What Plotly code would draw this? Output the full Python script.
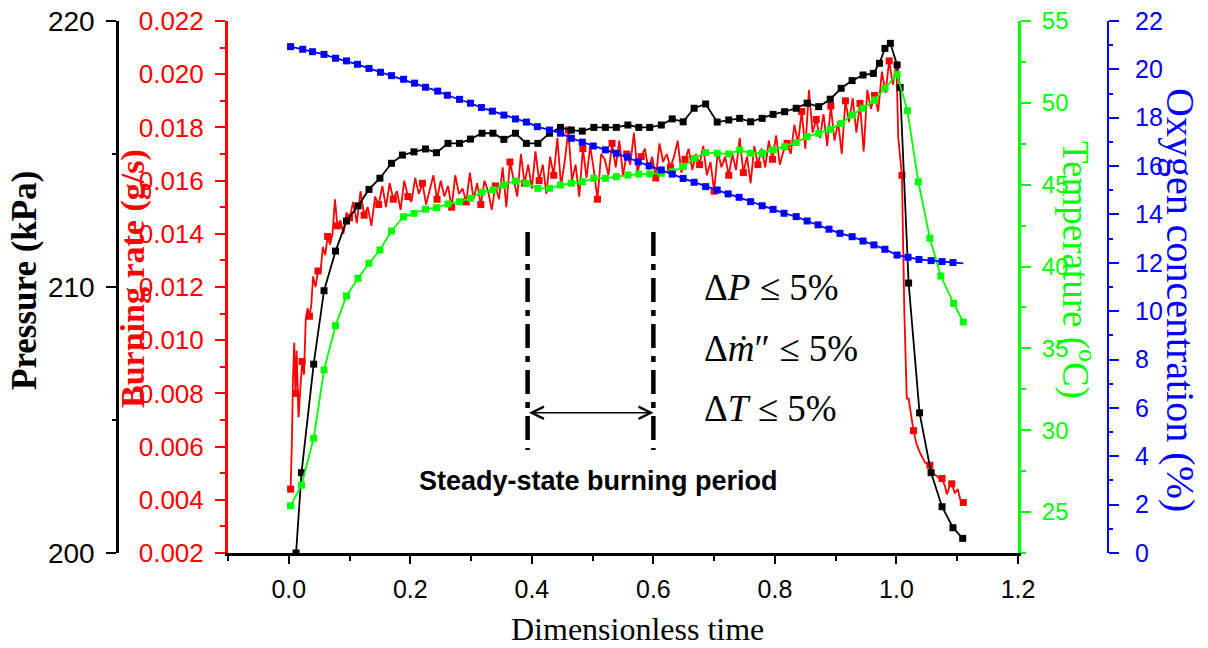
import plotly.graph_objects as go

# Page geometry (pixels) of the original figure
W, H = 1208, 648

RED = "#ff0000"
GREEN = "#00ff00"
BLUE = "#0000ff"
SANS = "Liberation Sans, Arial, sans-serif"
SERIF = "Liberation Serif, Times New Roman, serif"

# Burning rate (mg/s, converted to g/s below) - noisy signal
rate_t = [0.003, 0.005, 0.007, 0.009, 0.011, 0.013, 0.016, 0.019, 0.022, 0.025,
          0.028, 0.031, 0.034, 0.037, 0.040, 0.044, 0.048, 0.052, 0.056, 0.060,
          0.064, 0.068, 0.072, 0.076, 0.080, 0.085, 0.090, 0.095, 0.100,
          0.106, 0.112, 0.118, 0.124, 0.130, 0.136, 0.142, 0.148,
          0.154, 0.160, 0.166, 0.172, 0.178, 0.184, 0.190, 0.196,
          0.202, 0.208, 0.214, 0.220, 0.226, 0.232, 0.238, 0.244,
          0.250, 0.256, 0.262, 0.268, 0.274, 0.280, 0.286, 0.292,
          0.298, 0.304, 0.310, 0.316, 0.322, 0.328, 0.334, 0.340,
          0.346, 0.352, 0.358, 0.364, 0.370, 0.376, 0.382, 0.388,
          0.394, 0.400, 0.406, 0.412, 0.418, 0.424, 0.430, 0.436,
          0.442, 0.448, 0.454, 0.460, 0.466, 0.472, 0.478, 0.484,
          0.490, 0.496, 0.502, 0.508, 0.514, 0.520, 0.526, 0.532,
          0.538, 0.544, 0.550, 0.556, 0.562, 0.568, 0.574, 0.580,
          0.586, 0.592, 0.598, 0.604, 0.610, 0.616, 0.622, 0.628,
          0.634, 0.640, 0.646, 0.652, 0.658, 0.664, 0.670, 0.676,
          0.682, 0.688, 0.694, 0.700, 0.706, 0.712, 0.718, 0.724,
          0.730, 0.736, 0.742, 0.748, 0.754, 0.760, 0.766, 0.772,
          0.778, 0.784, 0.790, 0.796, 0.802, 0.808, 0.814, 0.820,
          0.826, 0.832, 0.838, 0.844, 0.850, 0.856, 0.862, 0.868,
          0.874, 0.880, 0.886, 0.892, 0.898, 0.904, 0.910, 0.916,
          0.922, 0.928, 0.934, 0.940, 0.946, 0.952, 0.958, 0.964,
          0.970, 0.976, 0.982, 0.988, 0.994, 1.000,
          1.003, 1.009, 1.013, 1.017, 1.020, 1.028, 1.033, 1.039, 1.047, 1.055,
          1.060, 1.066, 1.071, 1.075, 1.080, 1.083, 1.088, 1.091, 1.096, 1.101,
          1.105, 1.110]
rate_mg = [4.4, 6.0, 8.6, 9.9, 8.0, 9.6, 7.1, 8.4, 9.2, 8.7,
           10.8, 11.2, 10.9, 11.3, 12.4, 12.0, 12.6, 12.5, 13.5, 13.2,
           13.9, 13.6, 14.0, 15.3, 14.3, 14.5, 14.0, 14.8, 14.6,
           15.2, 14.4, 15.6, 14.7, 15.0, 14.3, 15.4, 15.1,
           15.8, 15.0, 15.9, 15.3, 15.6, 14.9, 16.0, 15.4,
           15.2, 16.1, 15.5, 15.9, 15.1, 15.7, 16.2, 15.3,
           16.0, 15.4, 15.8, 15.0, 16.2, 15.5, 15.7, 15.2,
           16.3, 15.3, 15.9, 15.1, 16.0, 15.6, 14.9, 15.8,
           15.3, 16.5, 15.0, 16.7, 16.0, 15.4, 17.0, 15.9,
           16.6, 15.7, 17.1, 16.0, 16.6, 15.5, 16.9, 16.2,
           17.6, 15.8, 16.7, 17.9, 16.0, 16.6, 15.4, 17.2,
           16.1, 17.3, 16.4, 15.3, 17.0, 16.8, 16.2, 17.4,
           16.5, 17.5, 16.2, 17.0, 16.6, 17.8, 16.3, 16.9,
           17.2, 16.4, 16.9, 16.1, 17.4, 16.7, 17.0, 16.5,
           16.9, 17.5, 16.3, 16.8, 17.2, 16.4, 17.0, 16.6,
           17.3, 16.2, 16.7, 15.6, 17.1, 16.5, 16.9, 16.2,
           17.0, 16.4, 17.6, 16.3, 16.9, 15.9, 17.3, 16.6,
           17.2, 16.5, 17.5, 16.8, 17.7, 16.6, 17.1, 17.4,
           17.0, 18.1, 17.4, 18.6, 17.2, 19.4, 17.8, 18.3,
           17.6, 18.5, 17.3, 18.8, 17.5, 18.2, 17.0, 19.0,
           18.2, 19.1, 17.8, 18.9, 17.1, 19.4, 18.7, 19.2,
           18.6, 20.1, 19.3, 20.5, 19.6, 20.4,
           17.6, 16.2, 11.0, 7.8, 7.8, 6.6, 6.1, 5.75, 5.4, 5.3,
           5.0, 4.9, 4.8, 4.8, 4.5, 4.2, 4.55, 4.6, 4.25, 4.4,
           4.0, 3.9]
rate_gs = [v / 1000 for v in rate_mg]

# Pressure (kPa)
pres_t = [0.012, 0.021, 0.041, 0.058, 0.077, 0.095, 0.114, 0.132, 0.150, 0.169,
          0.187, 0.206, 0.225, 0.243, 0.262, 0.281, 0.299, 0.318, 0.336, 0.354,
          0.373, 0.391, 0.410, 0.429, 0.447, 0.465, 0.483, 0.502, 0.521, 0.539,
          0.558, 0.576, 0.594, 0.613, 0.631, 0.649, 0.667, 0.686, 0.705, 0.724,
          0.742, 0.760, 0.779, 0.797, 0.816, 0.835, 0.853, 0.872, 0.891, 0.909,
          0.927, 0.945, 0.962, 0.972, 0.981, 0.990, 1.001, 1.006, 1.020, 1.038,
          1.057, 1.075, 1.093, 1.109]
pressure = [200.0, 203.02, 207.1, 209.86, 211.35, 212.48, 213.05, 213.67, 214.09, 214.65,
            214.96, 215.08, 215.19, 215.05, 215.40, 215.40, 215.56, 215.78, 215.78, 215.55,
            215.78, 215.40, 215.40, 215.78, 216.0, 215.90, 215.86, 216.0, 216.0, 216.0,
            216.09, 216.0, 216.0, 216.09, 216.32, 216.21, 216.72, 216.88, 216.20, 216.28,
            216.34, 216.21, 216.34, 216.49, 216.59, 216.72, 216.91, 216.78, 217.06, 217.47,
            217.76, 217.97, 218.03, 218.41, 218.97, 219.16, 218.35, 217.5, 210.15, 205.27,
            203.02, 201.74, 200.95, 200.55]

# Temperature (degC)
temp_t = [0.003, 0.021, 0.041, 0.058, 0.077, 0.095, 0.114, 0.132, 0.150, 0.169,
          0.189, 0.206, 0.225, 0.243, 0.262, 0.281, 0.299, 0.318, 0.336, 0.354,
          0.373, 0.391, 0.410, 0.429, 0.447, 0.465, 0.483, 0.502, 0.521, 0.539,
          0.558, 0.576, 0.594, 0.613, 0.631, 0.649, 0.667, 0.686, 0.705, 0.724,
          0.742, 0.760, 0.779, 0.797, 0.816, 0.835, 0.853, 0.872, 0.891, 0.909,
          0.927, 0.945, 0.964, 0.981, 1.001, 1.018, 1.036, 1.055, 1.073, 1.094,
          1.110]
temperature = [25.39, 26.65, 29.51, 33.68, 36.39, 38.20, 39.28, 40.20, 41.01, 42.17,
               43.04, 43.25, 43.50, 43.60, 43.82, 43.96, 44.17, 44.54, 44.68, 44.98,
               45.23, 45.09, 44.78, 44.78, 44.98, 45.09, 45.18, 45.39, 45.39, 45.49,
               45.59, 45.65, 45.65, 45.70, 45.79, 46.10, 46.61, 46.96, 46.92, 46.88,
               47.12, 46.92, 46.92, 47.12, 47.32, 47.57, 47.93, 48.14, 48.38, 48.75,
               49.26, 49.67, 50.17, 50.89, 51.74, 49.52, 45.18, 41.73, 39.42, 37.75,
               36.61]

# Oxygen concentration (%)
oxy_t = [0.003, 0.023, 0.039, 0.058, 0.077, 0.095, 0.113, 0.132, 0.151, 0.169,
         0.189, 0.207, 0.225, 0.245, 0.261, 0.281, 0.299, 0.317, 0.335, 0.354,
         0.373, 0.391, 0.409, 0.429, 0.447, 0.465, 0.483, 0.501, 0.521, 0.539,
         0.557, 0.575, 0.593, 0.613, 0.631, 0.649, 0.667, 0.686, 0.705, 0.723,
         0.741, 0.760, 0.779, 0.797, 0.815, 0.835, 0.853, 0.871, 0.889, 0.907,
         0.927, 0.945, 0.963, 0.981, 1.001, 1.019, 1.037, 1.057, 1.075, 1.093]
oxygen = [20.94, 20.83, 20.73, 20.62, 20.46, 20.35, 20.21, 20.04, 19.88, 19.74,
          19.59, 19.43, 19.26, 19.10, 18.93, 18.76, 18.60, 18.42, 18.27, 18.11,
          17.95, 17.82, 17.63, 17.49, 17.36, 17.15, 16.99, 16.83, 16.67, 16.53,
          16.37, 16.18, 16.01, 15.84, 15.67, 15.49, 15.33, 15.15, 15.01, 14.85,
          14.71, 14.53, 14.36, 14.21, 14.05, 13.91, 13.73, 13.57, 13.39, 13.22,
          13.08, 12.90, 12.74, 12.56, 12.32, 12.23, 12.14, 12.09, 12.05, 12.01]
oxy_end_t = 1.110
oxy_end = 11.98

# steady-state window
steady_start, steady_end = 0.393, 0.600


def px(x):
    # page pixel -> paper fraction
    return x / W


def py(y):
    return 1 - y / H


fig = go.Figure()

# burning rate (red) - line plus sparse markers
fig.add_trace(go.Scatter(x=rate_t, y=rate_gs, mode="lines",
                         line=dict(color=RED, width=1.8), yaxis="y", showlegend=False))
fig.add_trace(go.Scatter(x=rate_t[::4], y=rate_gs[::4], mode="markers",
                         marker=dict(symbol="square", size=7, color=RED),
                         yaxis="y", showlegend=False))

# pressure (black)
fig.add_trace(go.Scatter(x=pres_t, y=pressure, mode="lines+markers",
                         line=dict(color="black", width=1.8),
                         marker=dict(symbol="square", size=7, color="black"),
                         yaxis="y2", showlegend=False))

# temperature (green)
fig.add_trace(go.Scatter(x=temp_t, y=temperature, mode="lines+markers",
                         line=dict(color=GREEN, width=1.8),
                         marker=dict(symbol="square", size=7, color=GREEN),
                         yaxis="y3", showlegend=False))

# oxygen (blue)
fig.add_trace(go.Scatter(x=oxy_t + [oxy_end_t], y=oxygen + [oxy_end], mode="lines",
                         line=dict(color=BLUE, width=1.8), yaxis="y4", showlegend=False))
fig.add_trace(go.Scatter(x=oxy_t, y=oxygen, mode="markers",
                         marker=dict(symbol="square", size=7, color=BLUE),
                         yaxis="y4", showlegend=False))

x_dom = [px(228), px(1018)]
y_dom = [py(553), py(21)]


def yaxis_style(color, lw, size):
    return dict(showline=True, linecolor=color, linewidth=lw, showgrid=False,
                zeroline=False, ticks="outside", ticklen=10, tickwidth=2,
                tickcolor=color, tickfont=dict(family=SANS, size=size, color=color),
                ticklabeloverflow="allow", automargin=False)


fig.update_layout(
    width=W, height=H,
    margin=dict(l=0, r=0, t=0, b=0),
    paper_bgcolor="white", plot_bgcolor="white",
    template="none",
    xaxis=dict(domain=x_dom, range=[-0.1, 1.2], tick0=0, dtick=0.2, tickformat=".1f",
               ticks="outside", ticklen=8, tickwidth=2, tickcolor="black",
               minor=dict(dtick=0.1, ticks="outside", ticklen=5, tickwidth=2, tickcolor="black"),
               showline=True, linecolor="black", linewidth=2.5, showgrid=False, zeroline=False,
               tickfont=dict(family=SANS, size=25, color="black"), ticklabelstandoff=4,
               ticklabeloverflow="allow", automargin=False, anchor="y"),
    xaxis2=dict(range=[-0.1, 1.2], overlaying="x", side="top", anchor="y",
                tick0=0, dtick=0.2, ticks="inside", ticklen=8, tickwidth=2, tickcolor="black",
                minor=dict(dtick=0.1, ticks="inside", ticklen=5, tickwidth=2, tickcolor="black"),
                showticklabels=False, showline=True, linecolor="black", linewidth=2.5,
                showgrid=False, zeroline=False, automargin=False),
    yaxis=dict(domain=y_dom, range=[0.002, 0.022], tick0=0.002, dtick=0.002,
               tickformat=".3f", side="left", anchor="x",
               minor=dict(dtick=0.001, ticks="outside", ticklen=5, tickwidth=2, tickcolor=RED),
               ticklabelstandoff=6, **yaxis_style(RED, 3, 26)),
    yaxis2=dict(overlaying="y", range=[200, 220], dtick=10, side="left",
                anchor="free", position=px(117),
                minor=dict(dtick=5, ticks="outside", ticklen=4, tickwidth=2, tickcolor="black"),
                ticklabelstandoff=6, **yaxis_style("black", 2.5, 28)),
    yaxis3=dict(overlaying="y", range=[22.5, 55], tick0=25, dtick=5, side="right", anchor="x",
                minor=dict(dtick=2.5, ticks="outside", ticklen=5, tickwidth=2, tickcolor=GREEN),
                ticklabelstandoff=6, **yaxis_style(GREEN, 3, 24)),
    yaxis4=dict(overlaying="y", range=[0, 22], dtick=2, side="right",
                anchor="free", position=px(1108),
                minor=dict(dtick=1, ticks="outside", ticklen=4, tickwidth=2, tickcolor=BLUE),
                ticklabelstandoff=11, **yaxis_style(BLUE, 2, 25)),
)

# steady-state markers: dash-dot vertical lines
for xv in (steady_start, steady_end):
    fig.add_shape(type="line", xref="x", yref="y", x0=xv, x1=xv, y0=0.01407, y1=0.00587,
                  line=dict(color="black", width=4.5, dash="24px,8px,6px,8px"))

# double-headed arrow between them
fig.add_annotation(x=steady_end, y=0.00727, ax=steady_start, ay=0.00727,
                   xref="x", yref="y", axref="x", ayref="y", text="",
                   showarrow=True, arrowside="end+start", arrowhead=5, startarrowhead=5,
                   arrowsize=1.6, startarrowsize=1.6, arrowwidth=1.5, arrowcolor="black")


def label(x, y, text, size, color="black", family=SERIF, angle=0, xanchor="center"):
    fig.add_annotation(x=px(x), y=py(y), xref="paper", yref="paper", text=text,
                       showarrow=False, textangle=angle, xanchor=xanchor, yanchor="middle",
                       font=dict(family=family, size=size, color=color))


label(598, 481, "<b>Steady-state burning period</b>", 27, family=SANS)

# criteria text
criteria = ["Δ<i>P</i> ≤ 5%", "Δ<i>ṁ</i>″ ≤ 5%", "Δ<i>T</i> ≤ 5%"]
for txt, yy in zip(criteria, [287, 348, 408]):
    label(702, yy, txt, 37, xanchor="left")

# axis titles
label(637, 629, "Dimensionless time", 32)
label(24, 281, "<b>Pressure (kPa)</b>", 35, angle=-90)
label(133, 279, "<b>Burning rate (g/s)</b>", 34, color=RED, angle=-90)
label(1078, 270, "Temperature (<sup>o</sup>C)", 37, color=GREEN, angle=90)
label(1181, 300, "Oxygen concentration (%)", 40, color=BLUE, angle=90)

# drop the default body margin so the figure fills the window exactly
fig.write_html("out.html", config={"displayModeBar": False},
               post_script="document.body.style.margin='0px';")
